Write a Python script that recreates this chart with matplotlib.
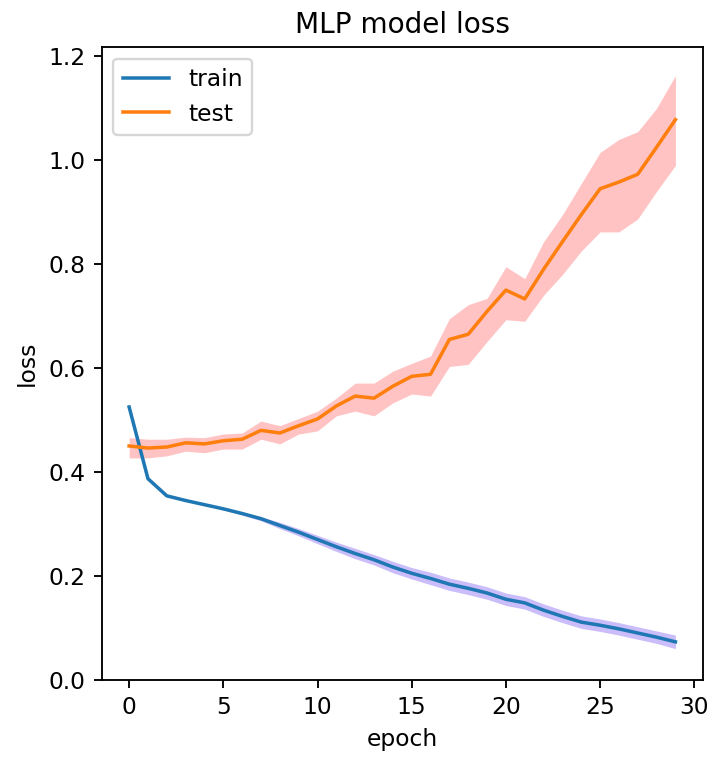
import matplotlib
matplotlib.use("Agg")
import matplotlib.pyplot as plt
import numpy as np

epochs = list(range(30))

train_mean = [0.525, 0.387, 0.354, 0.345, 0.337, 0.329, 0.320, 0.310, 0.297, 0.284,
              0.270, 0.256, 0.243, 0.231, 0.217, 0.205, 0.195, 0.184, 0.176, 0.167,
              0.155, 0.148, 0.134, 0.122, 0.111, 0.105, 0.098, 0.090, 0.082, 0.073]
train_low = [0.524, 0.386, 0.353, 0.344, 0.336, 0.327, 0.317, 0.306, 0.291, 0.277,
             0.262, 0.247, 0.233, 0.221, 0.206, 0.194, 0.183, 0.172, 0.164, 0.155,
             0.143, 0.136, 0.122, 0.110, 0.099, 0.093, 0.086, 0.078, 0.070, 0.060]
train_high = [0.526, 0.388, 0.355, 0.346, 0.338, 0.331, 0.323, 0.314, 0.303, 0.291,
              0.278, 0.265, 0.253, 0.241, 0.228, 0.216, 0.207, 0.196, 0.188, 0.179,
              0.167, 0.160, 0.146, 0.134, 0.123, 0.117, 0.110, 0.102, 0.094, 0.086]

test_mean = [0.450, 0.446, 0.448, 0.456, 0.454, 0.460, 0.463, 0.480, 0.475, 0.489,
             0.502, 0.527, 0.546, 0.542, 0.565, 0.584, 0.588, 0.655, 0.665, 0.709,
             0.750, 0.733, 0.790, 0.843, 0.895, 0.945, 0.958, 0.973, 1.025, 1.078]
test_low = [0.427, 0.427, 0.431, 0.440, 0.437, 0.444, 0.444, 0.463, 0.454, 0.473,
            0.479, 0.508, 0.517, 0.508, 0.533, 0.550, 0.546, 0.603, 0.607, 0.651,
            0.693, 0.690, 0.740, 0.780, 0.825, 0.862, 0.862, 0.887, 0.940, 0.990]
test_high = [0.466, 0.463, 0.463, 0.467, 0.466, 0.473, 0.475, 0.498, 0.489, 0.503,
             0.517, 0.542, 0.571, 0.571, 0.594, 0.609, 0.623, 0.695, 0.722, 0.734,
             0.795, 0.772, 0.843, 0.895, 0.955, 1.015, 1.040, 1.055, 1.100, 1.163]

DPI = 168
fig = plt.figure(figsize=(712 / DPI, 757 / DPI), dpi=DPI)
ax = fig.add_axes([0.143, 0.102, 0.844, 0.836])

ax.fill_between(epochs, train_low, train_high, color="#7b5cf0", alpha=0.4, linewidth=0)
ax.fill_between(epochs, test_low, test_high, color="#ff5555", alpha=0.35, linewidth=0)
ax.plot(epochs, train_mean, color="#1f77b4", label="train")
ax.plot(epochs, test_mean, color="#ff7f0e", label="test")

ax.set_ylim(0, 1.218)
ax.set_xticks([0, 5, 10, 15, 20, 25, 30])
ax.set_yticks([0.0, 0.2, 0.4, 0.6, 0.8, 1.0, 1.2])
ax.set_title("MLP model loss")
ax.set_xlabel("epoch")
ax.set_ylabel("loss")
ax.legend(loc="upper left")

fig.savefig("out.png", dpi=DPI)
